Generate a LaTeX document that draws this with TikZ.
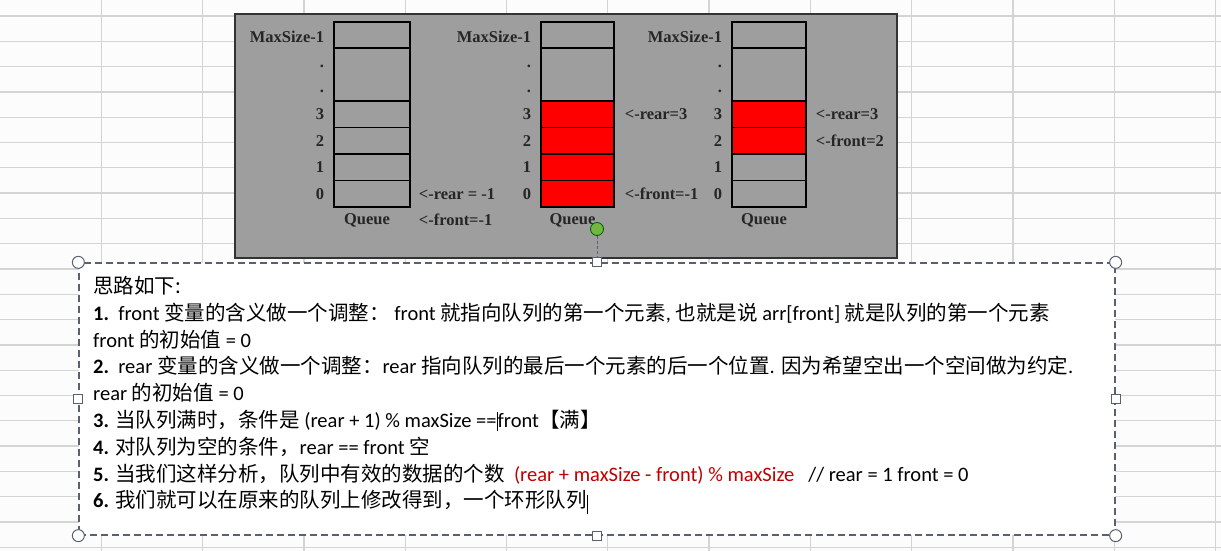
\documentclass[tikz,border=0pt]{standalone}
\usepackage{fontspec}
\setmainfont{Carlito}
\newfontfamily\zhfont{Noto Sans CJK SC}
\newfontfamily\timesfont{Liberation Serif}
\newcommand\zh[1]{{\zhfont #1}}
\definecolor{sheetbg}{RGB}{252,252,252}
\definecolor{sheetgrid}{RGB}{212,212,212}
\definecolor{boxgray}{RGB}{158,158,158}
\definecolor{cellred}{RGB}{255,0,0}
\definecolor{notered}{RGB}{192,0,0}
\definecolor{handleline}{RGB}{90,96,110}
\definecolor{rotgreen}{RGB}{112,184,64}
\begin{document}
\begin{tikzpicture}[x=1pt,y=-1pt,
  cell/.style={draw=black,line width=1.4pt,inner sep=0pt},
  idx/.style={font=\timesfont\bfseries\fontsize{16.5}{20}\selectfont,text=black!85,anchor=east,inner sep=0pt},
  ptr/.style={font=\timesfont\bfseries\fontsize{16.5}{20}\selectfont,text=black!85,anchor=west,inner sep=0pt},
  cornerh/.style={circle,draw=handleline,fill=white,line width=1pt,minimum size=12pt,inner sep=0pt},
  sideh/.style={rectangle,draw=handleline,fill=white,line width=1pt,minimum size=9pt,inner sep=0pt},
  notes/.style={font=\fontsize{20.5}{26.8}\selectfont,align=left,anchor=north west,inner sep=0pt,text=black}]
% spreadsheet behind the pictures
\path[use as bounding box,fill=sheetbg] (0,0) rectangle (1221,551);
\foreach \k in {0,...,21}
  \draw[sheetgrid,line width=1.3pt] (0,{16+25.3*\k}) -- (1221,{16+25.3*\k});
\foreach \k in {1,...,12}
  \draw[sheetgrid,line width=1.3pt] ({101.3*\k},0) -- ({101.3*\k},551);
% the three queues
\node[draw=black!80,line width=2.5pt,fill=boxgray,minimum width=662pt,minimum height=244pt,inner sep=0pt] (panel) at (566,136) {};
\foreach \q/\cx/\w/\lo/\hi in {1/372/76/9/9,2/577.5/73/0/3,3/769/74/2/3} {
  \node[cell,fill=boxgray,minimum width=\w pt,minimum height=26pt] (q\q top) at (\cx,35) {};
  \node[cell,fill=boxgray,minimum width=\w pt,minimum height=53pt] (q\q dots) at (\cx,74.5) {};
  \node[idx] at ([xshift=-9pt,yshift=-2pt]q\q top.west) {MaxSize-1};
  \node[idx] at ([xshift=-9pt,yshift=8.5pt]q\q dots.west) {.};
  \node[idx] at ([xshift=-9pt,yshift=-16.5pt]q\q dots.west) {.};
  \foreach \r in {0,...,3} {
    \pgfmathsetmacro{\col}{(\r>=\lo && \r<=\hi) ? "cellred" : "boxgray"}
    \node[cell,fill=\col,minimum width=\w pt,minimum height=26.5pt] (q\q c\r) at (\cx,{193.75-26.5*\r}) {};
    \node[idx] at ([xshift=-9pt]q\q c\r.west) {\r};
  }
  \node[idx,anchor=center] (q\q name) at ([xshift=-5pt,yshift=-13pt]q\q c0.south) {Queue};
}
\node[ptr] (q1rear) at ([xshift=8pt]q1c0.east) {<-rear = -1};
\node[ptr] (q1front) at ([xshift=8pt,yshift=-26pt]q1c0.east) {<-front=-1};
\node[ptr] (q2rear) at ([xshift=10pt]q2c3.east) {<-rear=3};
\node[ptr] (q2front) at ([xshift=10pt]q2c0.east) {<-front=-1};
\node[ptr] (q3rear) at ([xshift=9pt]q3c3.east) {<-rear=3};
\node[ptr] (q3front) at ([xshift=9pt]q3c2.east) {<-front=2};
% selected text box with its handles
\node[draw=handleline,line width=1.3pt,dash pattern=on 7pt off 4pt,fill=white,minimum width=1036pt,minimum height=272pt,inner sep=0pt] (notebox) at (597,399) {};
\node[circle,fill=rotgreen,draw=green!35!black,line width=0.8pt,minimum size=13pt,inner sep=0pt] (rot) at (597,229) {};
\node[sideh] (hn) at (notebox.north) {};
\node[sideh] (hs) at (notebox.south) {};
\node[sideh] (hw) at (notebox.west) {};
\node[sideh] (he) at (notebox.east) {};
\foreach \c in {north west,north east,south west,south east}
  \node[cornerh] (h\c) at (notebox.\c) {};
\draw[handleline,line width=1pt,dash pattern=on 3pt off 2pt] (rot) -- (hn);
\node[notes] (notetext) at (93,276) {\zh{思路如下:}\\
\textbf{1.}\ \ front \zh{变量的含义做一个调整：} front \zh{就指向队列的第一个元素}, \zh{也就是说} arr[front] \zh{就是队列的第一个元素}\\
front \zh{的初始值} = 0\\
\textbf{2.}\ \ rear \zh{变量的含义做一个调整：}rear \zh{指向队列的最后一个元素的后一个位置}. \zh{因为希望空出一个空间做为约定}.\\
rear \zh{的初始值} = 0\\
\textbf{3.} \zh{当队列满时，条件是} (rear + 1) \% maxSize ==\rule[-4pt]{1.2pt}{19pt}front\zh{【满】}\\
\textbf{4.} \zh{对队列为空的条件，}rear == front \zh{空}\\
\textbf{5.} \zh{当我们这样分析，队列中有效的数据的个数}\ \ {\color{notered}(rear + maxSize - front) \% maxSize}\ \ \ // rear = 1 front = 0\\
\textbf{6.} \zh{我们就可以在原来的队列上修改得到，一个环形队列}\rule[-6pt]{1pt}{19pt}};
\end{tikzpicture}
\end{document}
